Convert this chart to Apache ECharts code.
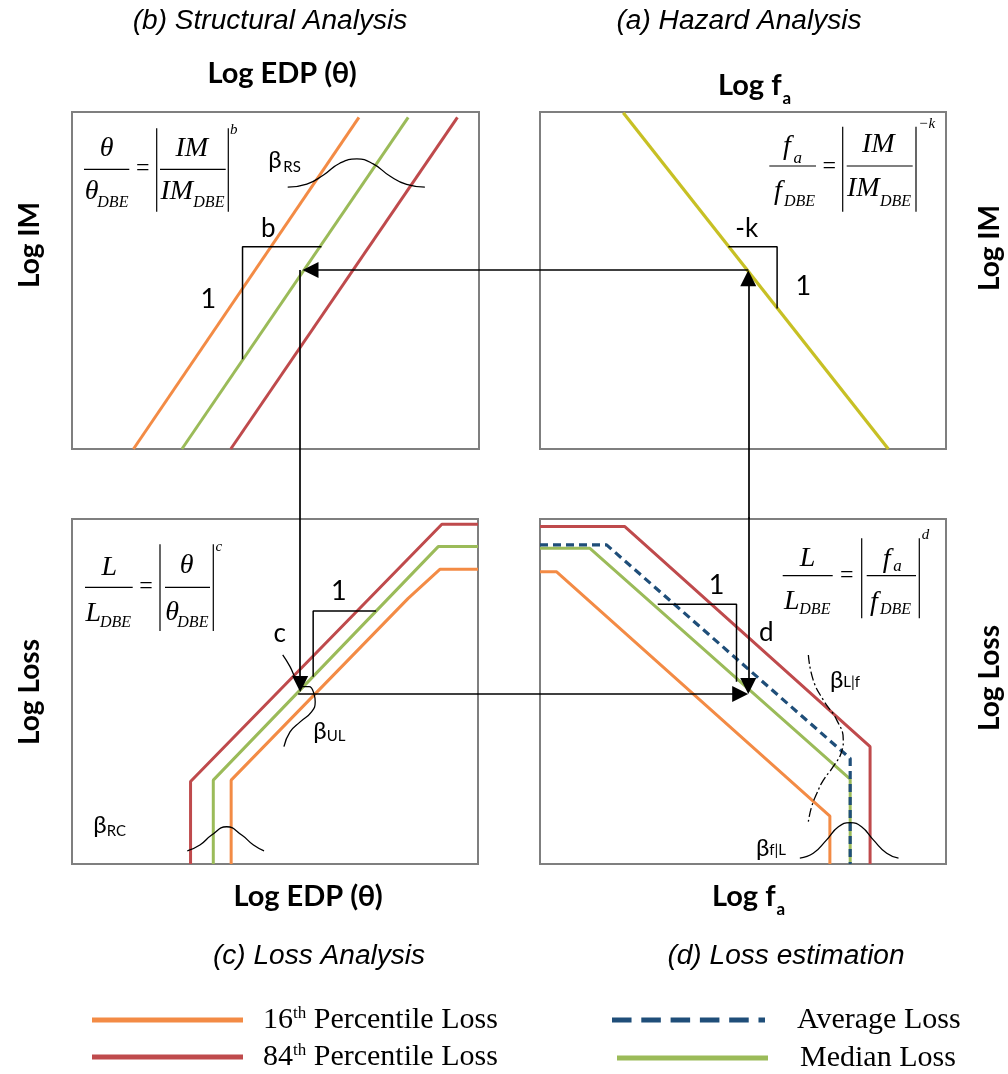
<!DOCTYPE html>
<html>
<head>
<meta charset="utf-8">
<script src="https://cdn.jsdelivr.net/npm/echarts@6/dist/echarts.min.js"></script>
<style>
  html, body { margin: 0; padding: 0; background: #fff; }
  #chart { width: 1008px; height: 1074px; }
</style>
</head>
<body>
<div id="chart"></div>
<script>
// every panel uses 0-100 on both axes, y pointing up

// (b) structural analysis: log EDP against log IM
const imEdp16 = [[15.1, 0], [70.5, 98.4]];
const imEdpMed = [[27.0, 0], [82.6, 98.4]];
const imEdp84 = [[39.0, 0], [94.7, 98.4]];
const bellRS = [[53.0, 77.7], [57.7, 78.6], [61.8, 81.3], [65.8, 84.8], [70.0, 86.1], [74.0, 84.6], [78.1, 81.0], [82.2, 78.5], [86.7, 77.7]];
const slopeB = [[41.9, 26.6], [41.9, 60.0], [61.3, 60.0]];

// (a) hazard analysis: log fa against log IM
const hazardCurve = [[20.5, 99.8], [85.8, 0]];
const slopeK = [[46.4, 60.0], [58.4, 60.0], [58.4, 41.7]];

// (c) loss analysis: log EDP against log loss
const lossEdp84 = [[29.2, 0], [29.2, 23.9], [91.1, 98.5], [100, 98.5]];
const lossEdpMed = [[34.8, 0], [34.8, 24.3], [90.2, 92.0], [100, 92.0]];
const lossEdp16 = [[39.2, 0], [39.2, 24.3], [82.8, 77.0], [90.6, 85.4], [100, 85.4]];
const bellRC = [[28.4, 3.8], [31.5, 5.5], [34.4, 8.4], [38.1, 10.8], [41.8, 8.4], [44.7, 5.5], [47.3, 3.8]];
const bellUL = [[51.9, 60.6], [53.7, 57.2], [55.3, 53.3], [56.8, 51.4], [58.4, 51.4], [59.6, 49.3], [59.9, 47.0], [59.0, 44.1], [56.2, 41.2], [53.7, 38.3], [52.2, 34.0]];
const slopeC = [[59.4, 54.3], [59.4, 73.3], [74.9, 73.3]];

// (d) loss estimation: log fa against log loss
const lossFa84 = [[0, 97.8], [20.9, 97.8], [81.3, 34.0], [81.3, 0]];
const lossFaAvg = [[0, 92.5], [16.4, 92.5], [76.4, 30.6], [76.4, 0]];
const lossFaMed = [[0, 91.5], [12.3, 91.5], [76.4, 24.6], [76.4, 0]];
const lossFa16 = [[0, 84.7], [4.1, 84.7], [71.4, 13.9], [71.4, 0]];
const bellLf = [[66.1, 60.6], [67.3, 53.3], [69.8, 47.5], [73.1, 41.7], [74.7, 35.9], [74.3, 32.6], [72.2, 28.2], [69.8, 24.3], [68.2, 20.5], [66.9, 16.6], [66.1, 12.3]];
const bellFL = [[64.0, 1.7], [67.3, 3.1], [70.6, 7.0], [73.5, 10.8], [76.4, 12.0], [79.2, 10.8], [82.1, 7.0], [85.4, 3.1], [88.3, 1.7]];
const slopeD = [[29.0, 75.3], [48.4, 75.3], [48.4, 52.8]];

// the path that links the four panels (segments may run past a box edge)
const arrowsB = [[[115.0, 53.1], [58.6, 53.1]]];
const plainB = [[[56.0, 53.1], [56.0, 0]]];
const arrowsA = [[[51.3, -20.8], [51.3, 50.7]]];
const plainA = [[[51.3, 53.1], [0, 53.1]]];
const arrowsC = [[[56.2, 120.3], [56.2, 52.2]]];
const plainC = [[[55.7, 49.3], [100, 49.3]]];
const arrowsD = [[[-15.3, 49.3], [49.3, 49.3]], [[51.3, 100.5], [51.3, 51.6]]];

const N16 = '16th Percentile Loss';
const N84 = '84th Percentile Loss';
const NAVG = 'Average Loss';
const NMED = 'Median Loss';

const C16 = '#F38B45';
const C84 = '#BF4A4C';
const CMED = '#9BBB59';
const CAVG = '#1F4E79';
const CHAZ = '#C7C024';

const SERIF = '"Liberation Serif", "Times New Roman", serif';
const SANS = 'Lato, "Noto Sans", sans-serif';
const ARIAL = '"Liberation Sans", Arial, sans-serif';

const chart = echarts.init(document.getElementById('chart'));

const boxes = [
  { left: 72, top: 112, width: 407, height: 337 },
  { left: 540, top: 112, width: 406, height: 337 },
  { left: 72, top: 519, width: 406, height: 345 },
  { left: 540, top: 519, width: 406, height: 345 }
];

function curve(name, gi, data, color, extra) {
  return Object.assign({
    type: 'line', name: name, xAxisIndex: gi, yAxisIndex: gi, data: data,
    symbol: 'none', showSymbol: false, silent: true, z: 2,
    lineStyle: { color: color, width: 3 }, itemStyle: { color: color }
  }, extra || {});
}
function bell(gi, data, extra) {
  return curve('', gi, data, '#000', Object.assign({ smooth: 0.5, lineStyle: { color: '#000', width: 1.3 }, z: 4 }, extra || {}));
}
function slope(gi, data) {
  return curve('', gi, data, '#000', { lineStyle: { color: '#000', width: 1.5 }, z: 4 });
}
function segs(gi, list, head) {
  return {
    type: 'lines', coordinateSystem: 'cartesian2d', xAxisIndex: gi, yAxisIndex: gi,
    clip: false, silent: true, z: 6,
    symbol: head ? ['none', 'triangle'] : 'none', symbolSize: [14, 16],
    lineStyle: { color: '#000', width: 1.7, opacity: 1 },
    data: list.map(c => ({ coords: c }))
  };
}

// text and formula pieces
const g = [];
function txt(x, y, s, size, o) {
  o = o || {};
  g.push({
    type: 'text', x: x, y: y, rotation: o.rot || 0, scaleX: o.sx || 1, z: 20,
    style: {
      text: s, fontSize: size, fontFamily: o.ff || SERIF,
      fontStyle: o.it ? 'italic' : 'normal', fontWeight: o.bold ? 'bold' : 'normal',
      fill: '#000', align: o.al || 'center', verticalAlign: 'middle',
      textAlign: o.al || 'center', textVerticalAlign: 'middle'
    }
  });
}
function rule(x1, y1, x2, y2) {
  g.push({ type: 'line', z: 20, shape: { x1: x1, y1: y1, x2: x2, y2: y2 }, style: { stroke: '#000', lineWidth: 1.2 } });
}
const measure = document.createElement('canvas').getContext('2d');
function widthOf(s, font) { measure.font = font; return measure.measureText(s).width; }

const IT = { it: true };
const ITL = { it: true, al: 'left' };

// theta / theta_DBE = |IM / IM_DBE|^b
txt(106.7, 148.3, 'θ', 28, IT); rule(84, 169.3, 129.3, 169.3);
txt(91.7, 191.7, 'θ', 28, IT); txt(97.3, 203, 'DBE', 16, ITL);
txt(142.7, 169, '=', 24);
rule(156.7, 128.3, 156.7, 211.7);
txt(191.7, 148.3, 'IM', 28, IT); rule(160, 169.3, 225.7, 169.3);
txt(176.7, 191.7, 'IM', 28, IT); txt(193.3, 203, 'DBE', 16, ITL);
rule(228.3, 128.3, 228.3, 211.7); txt(233.7, 130, 'b', 15, IT);

// fa / f_DBE = |IM / IM_DBE|^-k
txt(787, 147, 'f', 28, IT); txt(793.5, 159, 'a', 17, ITL); rule(769.3, 166, 816, 166);
txt(778, 192, 'f', 28, IT); txt(784, 202, 'DBE', 16, ITL);
txt(829.3, 166.7, '=', 24);
rule(842.7, 126.7, 842.7, 211.7);
txt(878.3, 145, 'IM', 28, IT); rule(846.7, 166, 912.7, 166);
txt(863.3, 189, 'IM', 28, IT); txt(880, 202, 'DBE', 16, ITL);
rule(916, 126.7, 916, 211.7); txt(926.7, 124, '−k', 15, IT);

// L / L_DBE = |theta / theta_DBE|^c
txt(109.2, 567.5, 'L', 28, IT); rule(85, 587.3, 132.7, 587.3);
txt(93.3, 613.3, 'L', 28, IT); txt(100, 623, 'DBE', 16, ITL);
txt(146, 587.2, '=', 24);
rule(160, 544.3, 160, 631);
txt(186.7, 565.8, 'θ', 28, IT); rule(165, 587.3, 210, 587.3);
txt(172.2, 613, 'θ', 28, IT); txt(177.3, 623, 'DBE', 16, ITL);
rule(213.3, 544.3, 213.3, 631); txt(218.8, 547.5, 'c', 15, IT);

// L / L_DBE = |fa / f_DBE|^d
txt(807.5, 558.3, 'L', 28, IT); rule(782.7, 575.7, 832.7, 575.7);
txt(791.7, 601.7, 'L', 28, IT); txt(799.3, 610, 'DBE', 16, ITL);
txt(846.7, 575.8, '=', 24);
rule(861.7, 538.3, 861.7, 618.3);
txt(886.7, 560, 'f', 28, IT); txt(893.3, 567, 'a', 17, ITL); rule(866.7, 575.7, 916, 575.7);
txt(874, 602.5, 'f', 28, IT); txt(880, 610, 'DBE', 16, ITL);
rule(919.3, 538.3, 919.3, 618.3); txt(925.5, 535, 'd', 15, IT);

// slope and spread labels
const S = { ff: SANS };
const SL = { ff: SANS, al: 'left' };
txt(268.3, 228.3, 'b', 26, S); txt(208.3, 299.7, '1', 27, S);
txt(268.3, 160, 'β', 24, SL); txt(283.3, 167.2, 'RS', 15, SL);
txt(746.7, 228.3, '-k', 26, S); txt(803.3, 285.8, '1', 27, S);
txt(338.8, 591.7, '1', 27, S); txt(279.7, 634, 'c', 26, S);
txt(93.3, 825, 'β', 24, SL); txt(106.7, 831, 'RC', 15, SL);
txt(313.3, 731, 'β', 24, SL); txt(326.7, 736.2, 'UL', 15, SL);
txt(716.7, 585, '1', 27, S); txt(766.3, 632.5, 'd', 26, S);
txt(830, 680, 'β', 24, SL); txt(843.3, 682.5, 'L|f', 15, SL);
txt(756, 848.3, 'β', 24, SL); txt(769.3, 850.3, 'f|L', 15, SL);

// axis titles
const B = { ff: SANS, bold: true };
const BLF = { ff: SANS, bold: true, al: 'left' };
const BR = { ff: SANS, bold: true, rot: Math.PI / 2 };
const logF = widthOf('Log f', 'bold 29px ' + SANS);
txt(282, 74, 'Log EDP (θ)', 29, B);
txt(718, 86, 'Log f', 29, BLF); txt(718 + logF + 1, 99, 'a', 17, BLF);
txt(308, 897, 'Log EDP (θ)', 29, B);
txt(712, 897, 'Log f', 29, BLF); txt(712 + logF + 1, 910, 'a', 17, BLF);
txt(30, 245, 'Log IM', 28, BR); txt(990, 248, 'Log IM', 28, BR);
txt(30, 692, 'Log Loss', 28, BR); txt(990, 678, 'Log Loss', 28, BR);

// panel captions
const CAP = { ff: ARIAL, it: true, sx: 1.04 };
txt(270, 21, '(b) Structural Analysis', 27, CAP);
txt(739, 21, '(a) Hazard Analysis', 27, CAP);
txt(319, 956, '(c) Loss Analysis', 27, CAP);
txt(786, 956, '(d) Loss estimation', 27, CAP);

const axisX = boxes.map((b, i) => ({ gridIndex: i, type: 'value', min: 0, max: 100, show: false }));
const axisY = boxes.map((b, i) => ({ gridIndex: i, type: 'value', min: 0, max: 100, show: false }));

const dashIcon = 'path://M0,0h18v5h-18z M27,0h18v5h-18z M54,0h18v5h-18z M81,0h18v5h-18z M108,0h18v5h-18z M135,0h6v5h-6z';
function legendItem(name, icon, left, top, width, gap) {
  return {
    data: [{ name: name, icon: icon }], left: left, top: top, padding: 0,
    itemWidth: width, itemHeight: 5, symbolKeepAspect: false, selectedMode: false,
    textStyle: {
      fontFamily: SERIF, fontSize: 30, lineHeight: 30, color: '#000', padding: [0, 0, 0, gap],
      rich: { sup: { fontFamily: SERIF, fontSize: 17, lineHeight: 30, verticalAlign: 'top', color: '#000' } }
    },
    formatter: n => n.replace(/^(\d+)th/, '$1{sup|th}')
  };
}

chart.setOption({
  animation: false,
  backgroundColor: '#fff',
  grid: boxes.map(b => Object.assign({ show: true, borderColor: '#7f7f7f', borderWidth: 2, backgroundColor: 'transparent' }, b)),
  xAxis: axisX,
  yAxis: axisY,
  legend: [
    legendItem(N16, 'rect', 92, 1005, 151, 15),
    legendItem(N84, 'rect', 92, 1042, 151, 15),
    legendItem(NAVG, dashIcon, 612, 1005, 153, 27),
    legendItem(NMED, 'rect', 617, 1043, 151, 27)
  ],
  series: [
    curve(N16, 0, imEdp16, C16), curve(NMED, 0, imEdpMed, CMED), curve(N84, 0, imEdp84, C84),
    bell(0, bellRS), slope(0, slopeB),
    curve('Hazard', 1, hazardCurve, CHAZ, { lineStyle: { color: CHAZ, width: 3.2 } }), slope(1, slopeK),
    curve(N84, 2, lossEdp84, C84), curve(NMED, 2, lossEdpMed, CMED), curve(N16, 2, lossEdp16, C16),
    bell(2, bellRC), bell(2, bellUL), slope(2, slopeC),
    curve(N84, 3, lossFa84, C84), curve(N16, 3, lossFa16, C16), curve(NMED, 3, lossFaMed, CMED),
    curve(NAVG, 3, lossFaAvg, CAVG, { lineStyle: { color: CAVG, width: 3.2, type: [8, 5] }, z: 3 }),
    bell(3, bellLf, { lineStyle: { color: '#000', width: 1.3, type: [9, 3, 2, 3] } }), bell(3, bellFL), slope(3, slopeD),
    segs(0, arrowsB, true), segs(0, plainB, false),
    segs(1, arrowsA, true), segs(1, plainA, false),
    segs(2, arrowsC, true), segs(2, plainC, false),
    segs(3, arrowsD, true)
  ],
  graphic: g
});
</script>
</body>
</html>
